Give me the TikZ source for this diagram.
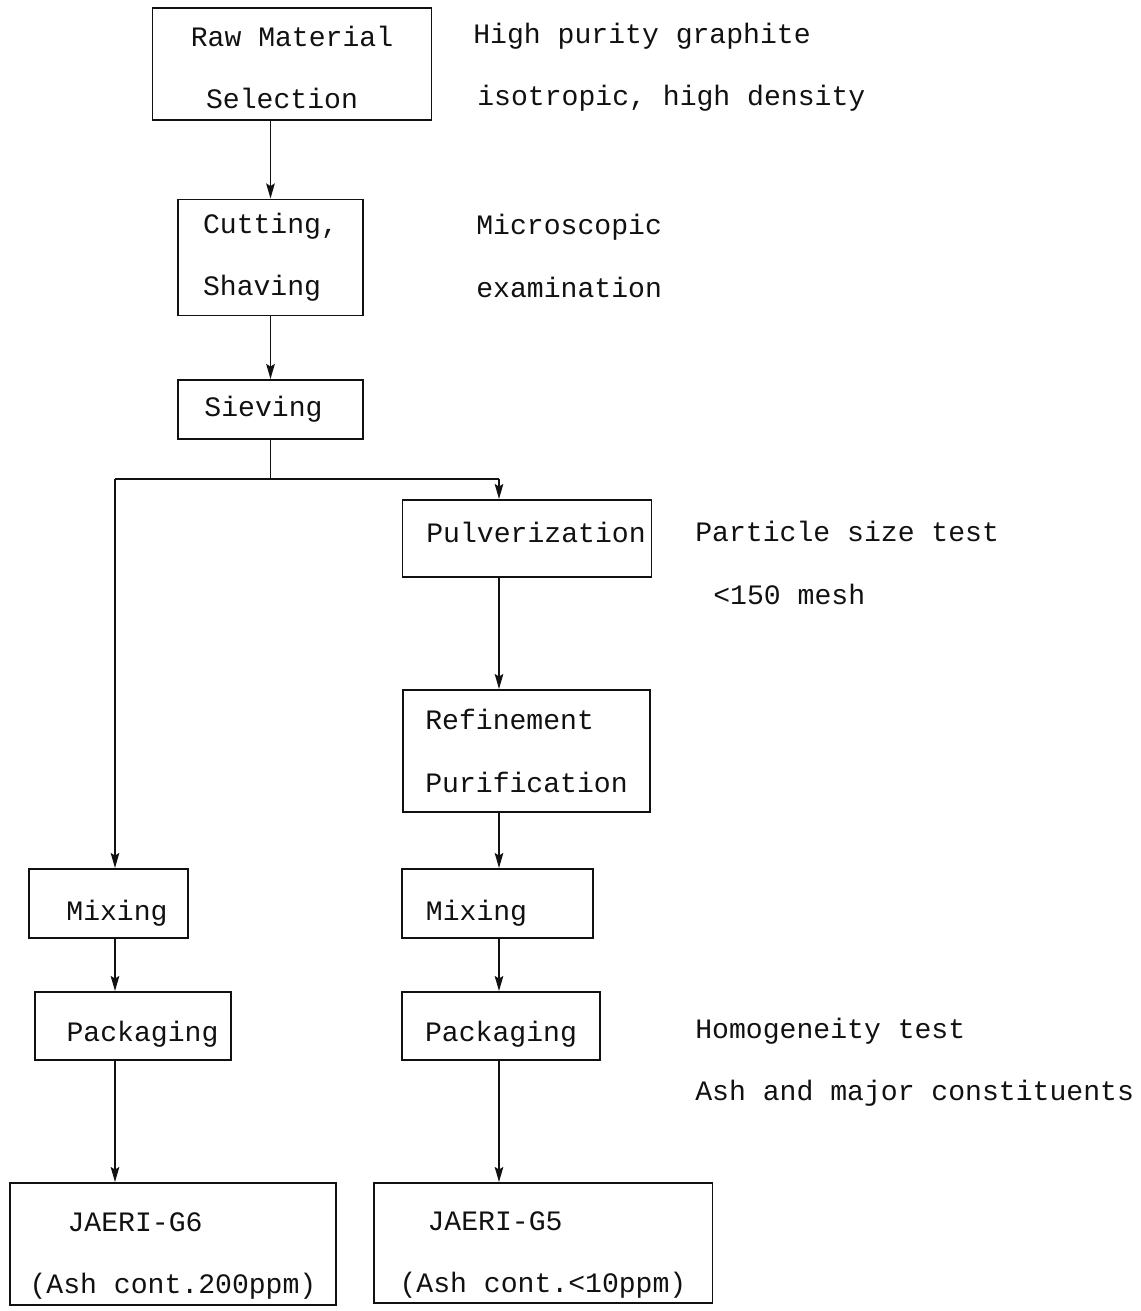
\documentclass[tikz,border=0pt]{standalone}
\usepackage{fontspec}
\usepackage{tikz}
\usetikzlibrary{arrows.meta,positioning,calc}
\newfontfamily\typewr{Liberation Mono}
\definecolor{InkBlack}{HTML}{111111}

\begin{document}
\begin{tikzpicture}[x=0.02cm,y=-0.02cm,>={Stealth[length=3mm,width=1.7mm,inset=0.5mm]},
  stepbox/.style={draw=InkBlack,line width=1.1pt,inner sep=0pt,text=InkBlack,font={\typewr\fontsize{16}{35.5}\selectfont}},
  sidenote/.style={anchor=west,align=left,inner sep=0pt,text=InkBlack,font={\typewr\fontsize{16}{35.5}\selectfont}},
  flow/.style={->,line width=1.1pt,draw=InkBlack},
  trunk/.style={line width=1.1pt,draw=InkBlack}]
  \useasboundingbox (0,0) rectangle (1141,1311);
  \node[stepbox,minimum width=5.58cm,minimum height=2.24cm,align=center] (raw) at (292,64) {\rule{0pt}{0.55cm}Raw Material\\Selection\hspace*{0.4cm}};
  \node[stepbox,minimum width=3.70cm,minimum height=2.32cm,align=left] (cut) at (270.5,257.5) {Cutting,\\Shaving};
  \node[stepbox,minimum width=3.70cm,minimum height=1.18cm] (sieve) at (270.5,409.5) {Sieving\hspace*{0.28cm}};
  \node[stepbox,minimum width=4.98cm,minimum height=1.54cm,text height=0.31cm,text depth=0.15cm] (pulv) at (527,538.5) {\hspace*{0.36cm}Pulverization};
  \node[stepbox,minimum width=4.94cm,minimum height=2.44cm,align=left] (refine) at (526.5,751) {Refinement\\Purification};
  \node[stepbox,minimum width=3.82cm,minimum height=1.38cm,text height=0.78cm,text depth=0.12cm] (mixR) at (497.5,903.5) {Mixing\hspace*{0.84cm}};
  \node[stepbox,minimum width=3.96cm,minimum height=1.36cm,text height=0.72cm,text depth=0.12cm] (packR) at (501,1026) {Packaging};
  \node[stepbox,minimum width=6.78cm,minimum height=2.40cm,align=left] (gfive) at (543,1243) {\rule{0pt}{0.85cm}\hspace*{0.56cm}JAERI-G5\\(Ash cont.<10ppm)};
  \node[stepbox,minimum width=3.18cm,minimum height=1.38cm,text height=0.78cm,text depth=0.12cm] (mixL) at (108.5,903.5) {\hspace*{0.34cm}Mixing};
  \node[stepbox,minimum width=3.92cm,minimum height=1.36cm,text height=0.72cm,text depth=0.12cm] (packL) at (133,1026) {\hspace*{0.38cm}Packaging};
  \node[stepbox,minimum width=6.52cm,minimum height=2.44cm,align=left] (gsix) at (173,1244) {\rule{0pt}{0.85cm}\hspace*{0.76cm}JAERI-G6\\(Ash cont.200ppm)};

  \node[sidenote] (purity) at (473,67) {High purity graphite\\\hspace*{0.08cm}isotropic, high density};
  \node[sidenote] (micro) at (476,256) {Microscopic\\examination};
  \node[sidenote] (psize) at (695,563) {Particle size test\\\hspace*{0.36cm}<150 mesh};
  \node[sidenote] (homog) at (695,1062) {Homogeneity test\\Ash and major constituents};

  \coordinate (split) at ([yshift=-0.8cm]sieve.south);
  \coordinate (lft) at (115,479);
  \coordinate (rgt) at (499,479);

  \draw[flow] (cut.north |- raw.south) -- (cut.north);
  \draw[flow] (cut.south) -- (cut.south |- sieve.north);
  \draw[trunk] (sieve.south) -- (split);
  \draw[trunk] (lft) -- (rgt);
  \draw[flow] (rgt) -- (rgt |- pulv.north);
  \draw[flow] (rgt |- pulv.south) -- (rgt |- refine.north);
  \draw[flow] (rgt |- refine.south) -- (rgt |- mixR.north);
  \draw[flow] (rgt |- mixR.south) -- (rgt |- packR.north);
  \draw[flow] (rgt |- packR.south) -- (rgt |- gfive.north);
  \draw[flow] (lft) -- (lft |- mixL.north);
  \draw[flow] (lft |- mixL.south) -- (lft |- packL.north);
  \draw[flow] (lft |- packL.south) -- (lft |- gsix.north);
\end{tikzpicture}
\end{document}
